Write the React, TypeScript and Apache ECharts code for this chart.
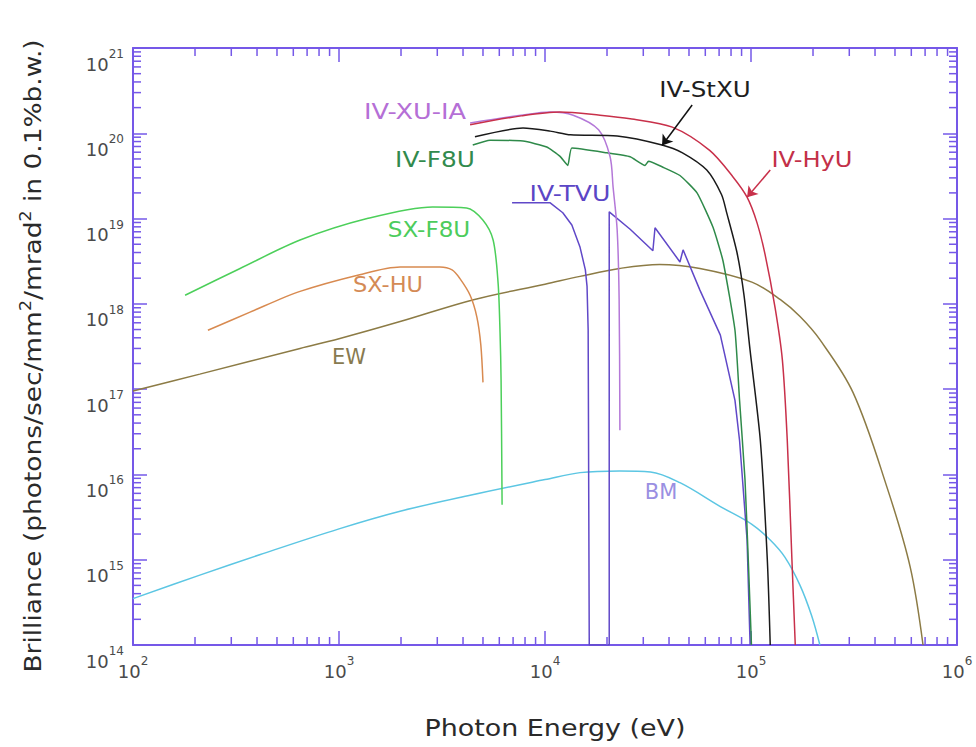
import React, { useEffect, useRef } from 'react';
import * as echarts from 'echarts';

const FONT = 'DejaVu Sans';
const AXIS_COLOR = '#7558e8';
const TICK_LABEL_COLOR = '#4a4a4a';

const X_MIN = 1e2;
const X_MAX = 1e6;
const Y_MIN = 1e14;
const Y_MAX = 1e21;
const X_DECADE_EXPONENTS = [2, 3, 4, 5];
const Y_DECADE_EXPONENTS = [14, 15, 16, 17, 18, 19, 20];
const MINOR_MULTIPLIERS = [2, 3, 4, 5, 6, 7, 8, 9];

// [photon energy (eV), brilliance]
const BM = [
  [100, 3.5e14], [211, 6.6e14], [415, 1.15e15], [1000, 2.3e15], [1980, 3.7e15],
  [4330, 5.7e15], [10000, 8.7e15], [14800, 1.05e16], [23000, 1.1e16], [32500, 1.07e16],
  [45200, 8.0e15], [71000, 4.2e15], [101000, 2.6e15], [124000, 1.7e15], [146000, 1.07e15],
  [173000, 5.0e14], [197000, 2.2e14], [216000, 1e14],
];
const EW = [
  [100, 9.5e16], [211, 1.5e17], [647, 3.0e17], [1000, 3.9e17], [1980, 6.2e17],
  [4500, 1.12e18], [10000, 1.7e18], [14800, 2.1e18], [23000, 2.6e18], [36000, 2.9e18],
  [56500, 2.6e18], [101000, 1.8e18], [139000, 1.12e18], [173000, 7.1e17], [216000, 3.8e17],
  [313000, 9.1e16], [457000, 7.1e15], [592000, 8.3e14], [684000, 1e14],
];
const SX_HU = [
  [231, 4.9e17], [370, 8.0e17], [647, 1.4e18], [1260, 2.2e18], [1980, 2.7e18],
  [3090, 2.7e18], [3540, 2.5e18], [3850, 2.0e18], [4330, 1.26e18], [4670, 7.0e17],
  [4880, 3.3e17], [5000, 1.2e17],
];
const SX_F8U = [
  [179, 1.26e18], [331, 2.6e18], [647, 5.6e18], [1370, 1.0e19], [2850, 1.37e19],
  [4160, 1.33e19], [4990, 9.6e18], [5600, 5.6e18], [5920, 1.75e18], [6050, 4.6e17],
  [6120, 1.3e17], [6190, 4.4e15],
];
const IV_TVU = [
  [6920, 1.53e19], [10600, 1.53e19], [12200, 1.17e19], [13500, 8.4e18], [14800, 4.6e18],
  [15700, 2.5e18], [16000, 1.6e18], [16200, 4.9e17], [16400, 1e14], [20500, 1e14],
  [20500, 1.2e19], [25900, 7.5e18], [33400, 4.2e18], [34200, 7.8e18], [45200, 3.1e18],
  [46800, 4.3e18], [56500, 1.45e18], [71000, 4.3e17], [83600, 7.4e16], [88000, 2.5e16],
  [95700, 1.7e15], [99000, 1e14],
];
const IV_XU_IA = [
  [4330, 1.32e20], [7650, 1.63e20], [10600, 1.78e20], [13700, 1.63e20], [18200, 1.1e20],
  [20700, 5.3e19], [21400, 2.35e19], [22400, 7.4e18], [22900, 1.12e18], [23100, 3.3e16],
];
const IV_HYU = [
  [4330, 1.26e20], [7650, 1.6e20], [11800, 1.78e20], [18500, 1.63e20], [25900, 1.48e20],
  [41500, 1.18e20], [63000, 6.3e19], [81600, 3.1e19], [95700, 1.78e19], [107000, 8.9e18],
  [117000, 3.8e18], [131000, 8.9e17], [142000, 2.2e17], [150000, 2.5e16], [158000, 1e15],
  [164000, 1e14],
];
const IV_STXU = [
  [4570, 9.1e19], [7820, 1.15e20], [10600, 1.06e20], [13300, 9.6e19], [22400, 9.3e19],
  [37000, 7.3e19], [46500, 5.9e19], [61000, 3.7e19], [72000, 1.9e19], [76000, 1.2e19],
  [85500, 4.0e18], [92500, 1.26e18], [98900, 2.9e17], [111000, 2.5e16], [120000, 1e15],
  [124000, 1e14],
];
const IV_F8U = [
  [4460, 7.3e19], [5410, 8.3e19], [7820, 8.1e19], [10200, 6.9e19], [11800, 5.4e19],
  [12900, 4.2e19], [13500, 6.7e19], [19900, 5.9e19], [25900, 5.3e19], [30600, 4.2e19],
  [31800, 4.7e19], [37400, 4.0e19], [45200, 3.2e19], [54700, 2.0e19], [65400, 7.9e18],
  [73100, 3.2e18], [83600, 4.9e17], [88000, 7.4e16], [93500, 8.7e15], [97000, 1e15],
  [100500, 1e14],
];

// arrows: [from, to] in data coordinates
const STXU_ARROW = [[51800, 2.15e20], [37000, 7.2e19]];
const HYU_ARROW = [[124000, 3.7e19], [95700, 1.78e19]];

const SERIES_DEFS = [
  { name: 'BM', data: BM, color: '#5cc6e3', smooth: 0.35 },
  { name: 'EW', data: EW, color: '#8c7b45', smooth: 0.35 },
  { name: 'SX-HU', data: SX_HU, color: '#d88a50', smooth: 0.3 },
  { name: 'SX-F8U', data: SX_F8U, color: '#4ccf5a', smooth: 0.3 },
  { name: 'IV-TVU', data: IV_TVU, color: '#6048c8', smooth: false },
  { name: 'IV-F8U', data: IV_F8U, color: '#2f8a4a', smooth: 0.15 },
  { name: 'IV-XU-IA', data: IV_XU_IA, color: '#b478d8', smooth: 0.3 },
  { name: 'IV-HyU', data: IV_HYU, color: '#c8304a', smooth: 0.3 },
  { name: 'IV-StXU', data: IV_STXU, color: '#1a1a1a', smooth: 0.25 },
];

const LABELS = [
  { text: 'IV-XU-IA', x: 415, y: 112, color: '#b56fd6', stretch: 1.22 },
  { text: 'IV-StXU', x: 705, y: 90, color: '#1e1e1e', stretch: 1.17 },
  { text: 'IV-HyU', x: 812, y: 160, color: '#c33048', stretch: 1.15 },
  { text: 'IV-F8U', x: 435, y: 160, color: '#318a4d', stretch: 1.18 },
  { text: 'IV-TVU', x: 570, y: 193, color: '#5b46c6', stretch: 1.2 },
  { text: 'SX-F8U', x: 429, y: 230, color: '#4ccc5c', stretch: 1.1 },
  { text: 'SX-HU', x: 388, y: 285, color: '#d48a55', stretch: 1.07 },
  { text: 'EW', x: 349, y: 357, color: '#887a50', stretch: 1.0 },
  { text: 'BM', x: 661, y: 492, color: '#9a8fe2', stretch: 1.0 },
];

const MAJOR_LEN = 14;
const MINOR_LEN = 8;

export default function App() {
  const ref = useRef<HTMLDivElement>(null);
  useEffect(() => {
    if (!ref.current) return;
    const chart = echarts.init(ref.current, null, { renderer: 'svg' });

    const xMinor = X_DECADE_EXPONENTS.flatMap((e) => MINOR_MULTIPLIERS.map((m) => [m * Math.pow(10, e), Y_MIN]));
    const yMinor = Y_DECADE_EXPONENTS.flatMap((e) => MINOR_MULTIPLIERS.map((m) => [X_MIN, m * Math.pow(10, e)]));

    const richLabel = {
      b: { fontSize: 18, fontFamily: FONT, color: TICK_LABEL_COLOR, lineHeight: 25, verticalAlign: 'bottom' },
      e: { fontSize: 12, fontFamily: FONT, color: TICK_LABEL_COLOR, lineHeight: 12, verticalAlign: 'top' },
    };
    const fmt = (v: number) => `{b|10}{e|${Math.round(Math.log10(v))}}`;

    const axisCommon = {
      type: 'log',
      logBase: 10,
      splitLine: { show: false },
      axisLine: { show: true, onZero: false, lineStyle: { color: AXIS_COLOR, width: 2 } },
      axisTick: { show: true, inside: true, length: MAJOR_LEN, lineStyle: { color: AXIS_COLOR, width: 1.5 } },
      minorTick: { show: false },
    };

    const tickStyle = { stroke: AXIS_COLOR, lineWidth: 1.5 };

    const option: any = {
      animation: false,
      backgroundColor: '#ffffff',
      grid: { left: 133, top: 48, width: 824, height: 597, containLabel: false },
      xAxis: [
        {
          ...axisCommon, min: X_MIN, max: X_MAX, position: 'bottom',
          axisLabel: { formatter: fmt, margin: 10, verticalAlign: 'top', rich: richLabel, showMinLabel: true, showMaxLabel: true },
        },
        { ...axisCommon, min: X_MIN, max: X_MAX, position: 'top', axisLabel: { show: false } },
      ],
      yAxis: [
        {
          ...axisCommon, min: Y_MIN, max: Y_MAX, position: 'left', splitNumber: 7,
          axisLabel: { formatter: fmt, margin: 9, verticalAlign: 'top', rich: richLabel, showMinLabel: true, showMaxLabel: true },
        },
        { ...axisCommon, min: Y_MIN, max: Y_MAX, position: 'right', splitNumber: 7, axisLabel: { show: false } },
      ],
      series: [
        ...SERIES_DEFS.map((s) => ({
          type: 'line',
          name: s.name,
          data: s.data,
          xAxisIndex: 0,
          yAxisIndex: 0,
          showSymbol: false,
          symbol: 'none',
          smooth: s.smooth,
          lineStyle: { color: s.color, width: 1.5 },
          itemStyle: { color: s.color },
          silent: true,
        })),
        {
          type: 'line',
          name: 'arrows',
          data: [],
          xAxisIndex: 0,
          yAxisIndex: 0,
          silent: true,
          markLine: {
            silent: true,
            symbol: ['none', 'arrow'],
            symbolSize: 10,
            label: { show: false },
            data: [
              [
                { coord: STXU_ARROW[0], lineStyle: { color: '#111111', width: 1.5, type: 'solid' }, itemStyle: { color: '#111111' } },
                { coord: STXU_ARROW[1] },
              ],
              [
                { coord: HYU_ARROW[0], lineStyle: { color: '#c8304a', width: 1.5, type: 'solid' }, itemStyle: { color: '#c8304a' } },
                { coord: HYU_ARROW[1] },
              ],
            ],
          },
        },
        {
          type: 'custom',
          name: 'xMinorTicks',
          data: xMinor,
          xAxisIndex: 0,
          yAxisIndex: 0,
          silent: true,
          z: 5,
          renderItem: (params: any, api: any) => {
            const cs = params.coordSys;
            const x = api.coord([api.value(0), api.value(1)])[0];
            const yb = cs.y + cs.height;
            return {
              type: 'group',
              children: [
                { type: 'line', shape: { x1: x, y1: yb, x2: x, y2: yb - MINOR_LEN }, style: tickStyle },
                { type: 'line', shape: { x1: x, y1: cs.y, x2: x, y2: cs.y + MINOR_LEN }, style: tickStyle },
              ],
            };
          },
        },
        {
          type: 'custom',
          name: 'yMinorTicks',
          data: yMinor,
          xAxisIndex: 0,
          yAxisIndex: 0,
          silent: true,
          z: 5,
          renderItem: (params: any, api: any) => {
            const cs = params.coordSys;
            const y = api.coord([api.value(0), api.value(1)])[1];
            const xr = cs.x + cs.width;
            return {
              type: 'group',
              children: [
                { type: 'line', shape: { x1: cs.x, y1: y, x2: cs.x + MINOR_LEN, y2: y }, style: tickStyle },
                { type: 'line', shape: { x1: xr, y1: y, x2: xr - MINOR_LEN, y2: y }, style: tickStyle },
              ],
            };
          },
        },
      ],
      graphic: [
        ...LABELS.map((l) => ({
          type: 'text',
          x: l.x,
          y: l.y,
          scaleX: l.stretch,
          silent: true,
          style: {
            text: l.text,
            fill: l.color,
            fontSize: 21,
            fontFamily: FONT,
            align: 'center',
            verticalAlign: 'middle',
          },
        })),
        {
          type: 'text',
          x: 555,
          y: 728,
          scaleX: 1.17,
          silent: true,
          style: {
            text: 'Photon Energy (eV)',
            fill: '#2a2a2a',
            fontSize: 23,
            fontFamily: FONT,
            align: 'center',
            verticalAlign: 'middle',
          },
        },
        {
          type: 'text',
          x: 33,
          y: 356,
          rotation: Math.PI / 2,
          scaleX: 1.15,
          silent: true,
          style: {
            text: 'Brilliance (photons/sec/mm{s|2}/mrad{s|2} in 0.1%b.w.)',
            fill: '#2a2a2a',
            fontSize: 23,
            fontFamily: FONT,
            lineHeight: 30,
            align: 'center',
            verticalAlign: 'middle',
            rich: {
              s: { fontSize: 15, fontFamily: FONT, fill: '#2a2a2a', lineHeight: 15, verticalAlign: 'top' },
            },
          },
        },
      ],
    };

    chart.setOption(option);
    return () => chart.dispose();
  }, []);

  return (
    <div
      ref={ref}
      style={{ position: 'fixed', left: 0, top: 0, width: 976, height: 747, background: '#fff' }}
    />
  );
}
